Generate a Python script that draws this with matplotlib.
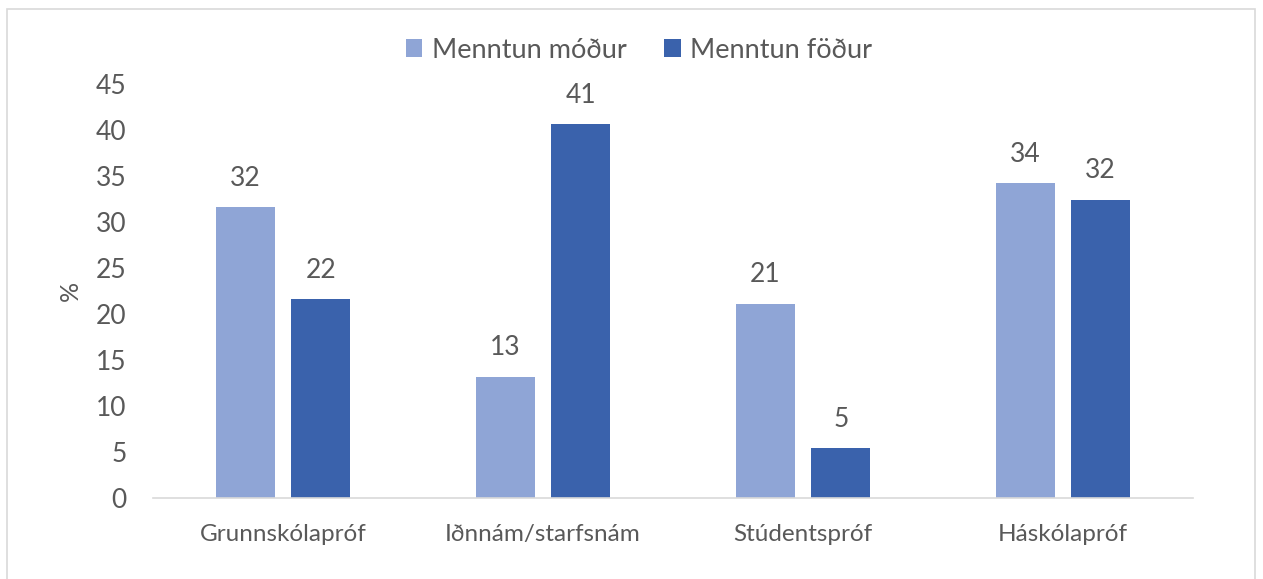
import matplotlib.pyplot as plt
from matplotlib.patches import Rectangle
import numpy as np

plt.rcParams['font.family'] = ['Lato', 'DejaVu Sans']

categories = ['Grunnskólapróf', 'Iðnnám/starfsnám', 'Stúdentspróf', 'Háskólapróf']
series_names = ['Menntun móður', 'Menntun föður']
modir = [31.6, 13.2, 21.1, 34.2]
fadir = [21.6, 40.6, 5.4, 32.4]

light = '#8FA5D6'
dark = '#3A62AC'
grey = '#595959'

fig = plt.figure(figsize=(12.63, 5.79), dpi=100)
W, H = 1263, 579

# outer chart frame
fig.patches.append(Rectangle((7 / W, -0.1), (1255 - 7) / W, 1.1 - 9 / H,
                             transform=fig.transFigure, fill=False,
                             edgecolor='#D9D9D9', linewidth=1.2))

ax = fig.add_axes([153 / W, (H - 498) / H, (1193 - 153) / W, (498 - 84) / H])

x = np.arange(len(categories))
w = 0.228
off = 0.145
b1 = ax.bar(x - off, modir, w, color=light, label=series_names[0])
b2 = ax.bar(x + off, fadir, w, color=dark, label=series_names[1])

for bars in (b1, b2):
    for r in bars:
        v = r.get_height()
        ax.annotate(f'{v:.0f}', (r.get_x() + r.get_width() / 2, v),
                    xytext=(0, 12), textcoords='offset points',
                    ha='center', va='bottom', fontsize=19, color=grey)

ax.set_xlim(-0.5, 3.5)
ax.set_ylim(0, 45)
ax.set_yticks(range(0, 46, 5))
ax.set_xticks(x)
ax.set_xticklabels(categories)
ax.tick_params(axis='y', length=0, labelsize=19, labelcolor=grey, pad=19)
ax.tick_params(axis='x', length=0, labelsize=17.5, labelcolor=grey, pad=19)
for s in ['top', 'right', 'left']:
    ax.spines[s].set_visible(False)
ax.spines['bottom'].set_color('#D9D9D9')
ax.spines['bottom'].set_linewidth(1.2)

ax.set_ylabel('%', fontsize=18, color=grey, labelpad=10)

fig.legend(loc='center', bbox_to_anchor=(639 / W, (H - 50) / H), ncol=2,
           frameon=False, fontsize=19.5, labelcolor=grey,
           handlelength=0.6, handleheight=0.6, handletextpad=0.35,
           columnspacing=1.4)

fig.savefig('out.png', dpi=100)
